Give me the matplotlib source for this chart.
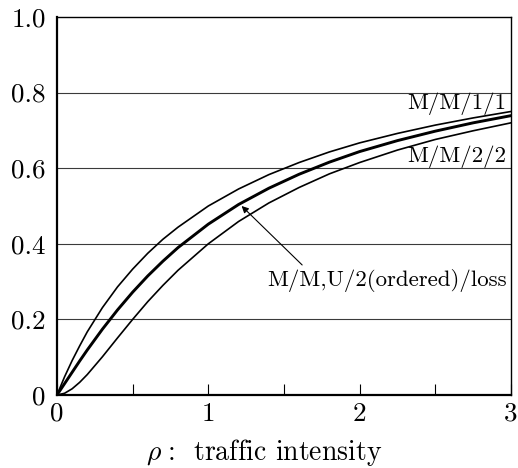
import matplotlib
matplotlib.use('Agg')
import matplotlib.pyplot as plt

plt.rcParams['font.family'] = ['cmr10', 'DejaVu Serif']
plt.rcParams['mathtext.fontset'] = 'cm'
plt.rcParams['axes.formatter.use_mathtext'] = True

# traffic intensity and blocking probability of each system
rho = [0, 0.05, 0.1, 0.15, 0.2, 0.3, 0.4, 0.5, 0.6, 0.7, 0.8, 1.0,
       1.2, 1.4, 1.6, 1.8, 2.0, 2.25, 2.5, 2.75, 3.0]
mm11 = [0, 0.048, 0.091, 0.130, 0.167, 0.231, 0.286, 0.333, 0.375, 0.412, 0.444, 0.500,
        0.545, 0.583, 0.615, 0.643, 0.667, 0.692, 0.714, 0.733, 0.750]
mmu2 = [0, 0.030, 0.060, 0.090, 0.119, 0.174, 0.225, 0.272, 0.315, 0.354, 0.390, 0.452,
        0.504, 0.547, 0.584, 0.616, 0.644, 0.673, 0.698, 0.720, 0.739]
mm22 = [0, 0.0045, 0.0164, 0.0335, 0.054, 0.101, 0.151, 0.200, 0.247, 0.290, 0.330, 0.400,
        0.459, 0.508, 0.549, 0.585, 0.615, 0.648, 0.676, 0.699, 0.720]

xticks = [0, 1, 2, 3]
xtick_labels = ['0', '1', '2', '3']
yticks = [0, 0.2, 0.4, 0.6, 0.8, 1.0]
ytick_labels = ['0', '0.2', '0.4', '0.6', '0.8', '1.0']

fig = plt.figure(figsize=(5.18, 4.68), dpi=100)
ax = fig.add_axes([0.110, 0.156, 0.8765, 0.8077])

for y in yticks[1:-1]:
    ax.axhline(y, color='#3a3a3a', lw=0.8, zorder=1)

ax.plot(rho, mm11, color='black', lw=1.2, zorder=3)
ax.plot(rho, mm22, color='black', lw=1.2, zorder=3)
ax.plot(rho, mmu2, color='black', lw=2.1, zorder=3)

ax.set_xlim(0, 3)
ax.set_ylim(0, 1)

ax.set_xticks(xticks)
ax.set_xticklabels(xtick_labels)
ax.set_xticks([0.5, 1.5, 2.5], minor=True)
ax.set_yticks(yticks)
ax.set_yticklabels(ytick_labels)
ax.tick_params(axis='x', which='both', direction='in', length=8, width=0.8,
               labelsize=19.5, pad=5, top=False)
ax.tick_params(axis='y', which='both', length=0, labelsize=19.5, pad=8)

for side in ['left', 'bottom']:
    ax.spines[side].set_linewidth(1.6)
for side in ['top', 'right']:
    ax.spines[side].set_linewidth(1.0)

ax.text(2.97, 0.77, 'M/M/1/1', ha='right', va='center', fontsize=16.5)
ax.text(2.97, 0.63, 'M/M/2/2', ha='right', va='center', fontsize=16.5)
ax.text(2.97, 0.304, 'M/M,U/2(ordered)/loss', ha='right', va='center', fontsize=16.5)
ax.annotate('', xy=(1.22, 0.50), xytext=(1.62, 0.344),
            arrowprops=dict(arrowstyle='-|>', color='black', lw=0.8,
                            mutation_scale=10, shrinkA=0, shrinkB=0))

ax.set_xlabel(r'$\rho\;$:  traffic intensity', fontsize=20)
ax.xaxis.set_label_coords(0.456, -0.110)

fig.savefig('out.png', dpi=100)
